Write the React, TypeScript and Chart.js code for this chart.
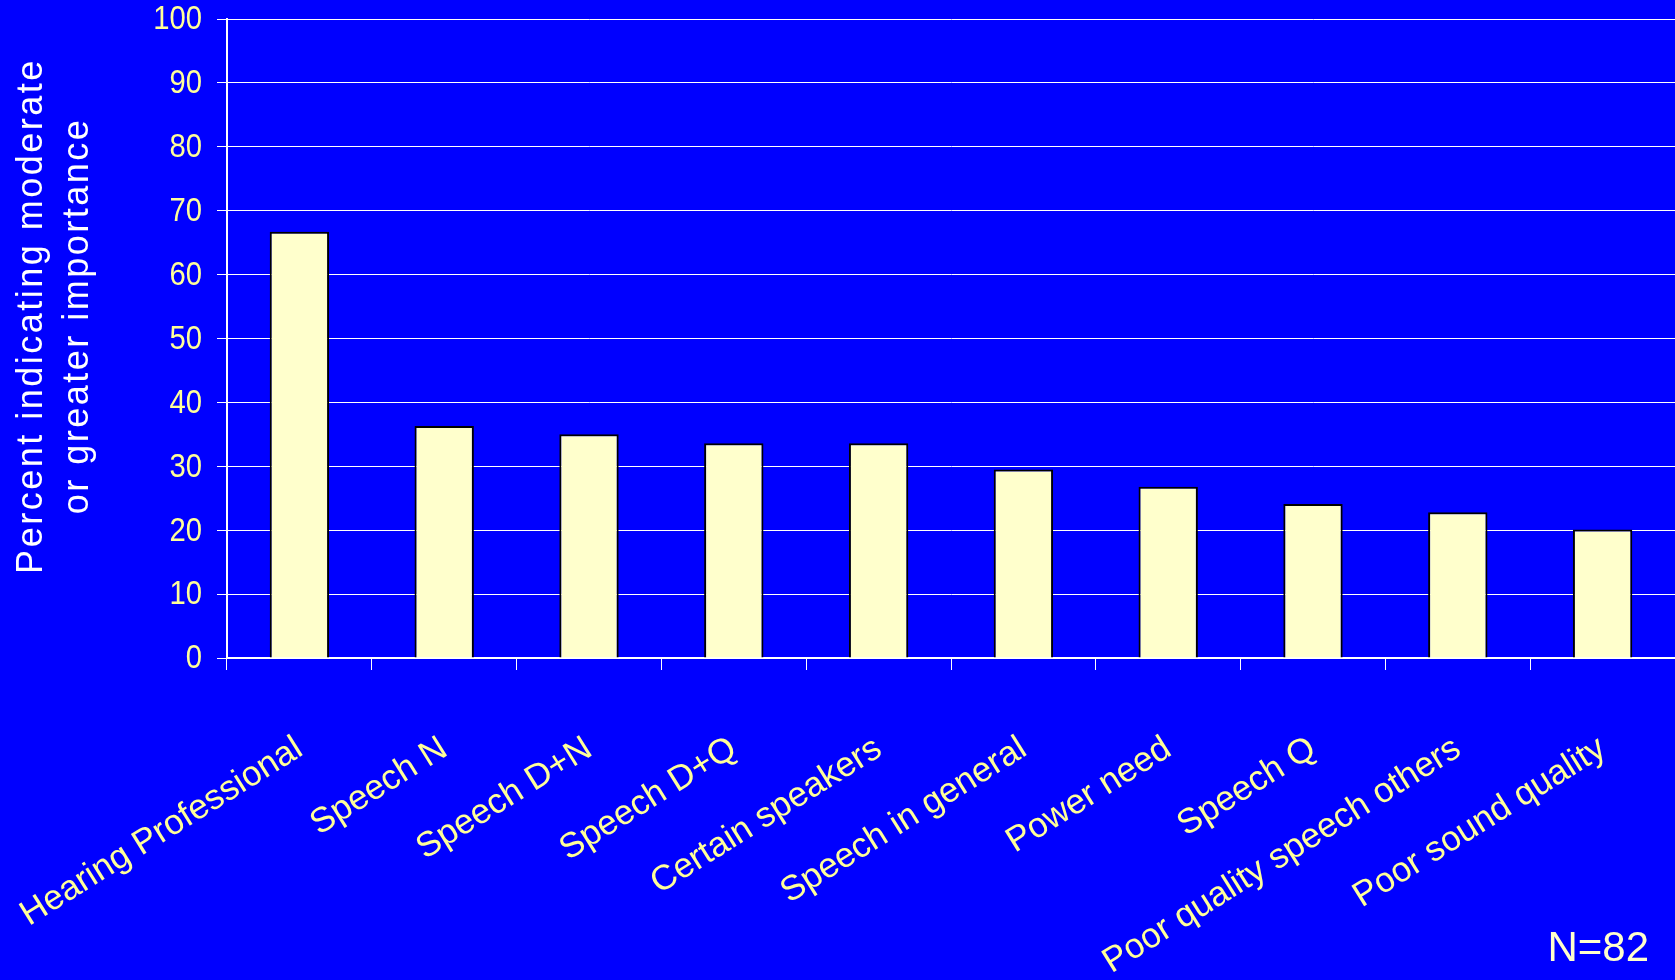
import React, { useEffect, useRef } from "react";
import { Chart, registerables } from "chart.js";

Chart.register(...registerables);

const categories = [
  "Hearing Professional",
  "Speech N",
  "Speech D+N",
  "Speech D+Q",
  "Certain speakers",
  "Speech in general",
  "Power need",
  "Speech Q",
  "Poor quality speech others",
  "Poor sound quality",
];
const percentValues = [66.7, 36.3, 35.0, 33.6, 33.6, 29.5, 26.8, 24.1, 22.8, 20.1];
const yTickMin = 0;
const yTickMax = 100;
const yTickStep = 10;
const yTitleLines = ["Percent indicating moderate", "or greater importance"];
const noteText = "N=82";

const FONT = "'Liberation Sans', Arial, Helvetica, sans-serif";

export default function App() {
  const canvasRef = useRef<HTMLCanvasElement | null>(null);

  useEffect(() => {
    const canvas = canvasRef.current;
    if (!canvas) return;

    const bgPlugin = {
      id: "bg",
      beforeDraw(chart: any) {
        const { ctx, width, height } = chart;
        ctx.save();
        ctx.fillStyle = "#0000FF";
        ctx.fillRect(0, 0, width, height);
        ctx.restore();
      },
    };

    const textPlugin = {
      id: "extraText",
      afterDraw(chart: any) {
        const ctx = chart.ctx as CanvasRenderingContext2D;
        // y tick labels, drawn slightly condensed like the reference
        const yScale = chart.scales.y;
        const labelRight = yScale.right - 25;
        yScale.ticks.forEach((t: any) => {
          const py = yScale.getPixelForValue(t.value);
          ctx.save();
          ctx.translate(labelRight, py);
          ctx.scale(0.86, 1);
          ctx.font = `34px ${FONT}`;
          ctx.fillStyle = "#FFFF99";
          ctx.textAlign = "right";
          ctx.textBaseline = "middle";
          ctx.fillText(String(t.value), 0, 1);
          ctx.restore();
        });
        // y-axis title (two rotated lines)
        const xs = [32, 78];
        yTitleLines.forEach((line, i) => {
          ctx.save();
          ctx.translate(xs[i], 316);
          ctx.rotate(-Math.PI / 2);
          ctx.font = `36px ${FONT}`;
          (ctx as any).letterSpacing = "2.5px";
          ctx.fillStyle = "#FFFFFF";
          ctx.textAlign = "center";
          ctx.textBaseline = "middle";
          ctx.fillText(line, 0, 0);
          ctx.restore();
        });
        // N note
        ctx.save();
        ctx.font = `42px ${FONT}`;
        ctx.fillStyle = "#FFFFCC";
        ctx.textAlign = "right";
        ctx.textBaseline = "alphabetic";
        ctx.fillText(noteText, 1649, 961);
        ctx.restore();
      },
    };

    const chart = new Chart(canvas, {
      type: "bar",
      data: {
        labels: categories,
        datasets: [
          {
            data: percentValues,
            backgroundColor: "#FFFFCC",
            borderColor: "#000000",
            borderWidth: 2,
            categoryPercentage: 1,
            barPercentage: 0.41,
          },
        ],
      },
      options: {
        animation: false,
        responsive: false,
        devicePixelRatio: 1,
        layout: { padding: { top: 19, right: 0, left: 0, bottom: 0 } },
        plugins: {
          legend: { display: false },
          tooltip: { enabled: false },
          title: { display: false },
        },
        scales: {
          x: {
            offset: true,
            grid: {
              display: true,
              drawOnChartArea: false,
              drawTicks: true,
              tickLength: 12,
              color: "#FFFFFF",
              lineWidth: 1,
              offset: true,
            },
            border: { display: true, color: "#FFFFFF", width: 2 },
            ticks: {
              color: "#FFFF99",
              font: { family: FONT, size: 35 },
              minRotation: 32,
              maxRotation: 32,
              autoSkip: false,
              padding: 58,
            },
            afterFit(scale: any) {
              scale.height = 322;
              scale.paddingLeft = 0;
              scale.paddingRight = 0;
            },
          },
          y: {
            min: yTickMin,
            max: yTickMax,
            grid: {
              color: "#FFFFFF",
              lineWidth: 1,
              tickLength: 10,
              drawTicks: true,
            },
            border: { display: true, color: "#FFFFFF", width: 2 },
            ticks: {
              stepSize: yTickStep,
              color: "rgba(0,0,0,0)",
              font: { family: FONT, size: 31 },
              padding: 15,
            },
            afterFit(scale: any) {
              scale.width = 227;
              scale.paddingTop = 0;
              scale.paddingBottom = 0;
            },
          },
        },
      },
      plugins: [bgPlugin, textPlugin],
    });

    return () => {
      chart.destroy();
    };
  }, []);

  return (
    <div
      style={{
        position: "fixed",
        left: 0,
        top: 0,
        width: 1675,
        height: 980,
        background: "#0000FF",
        overflow: "hidden",
      }}
    >
      <canvas ref={canvasRef} width={1675} height={980} />
    </div>
  );
}
